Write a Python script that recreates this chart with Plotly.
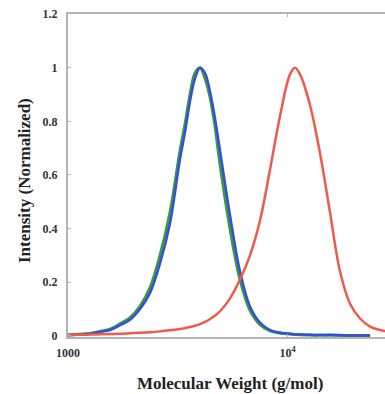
import plotly.graph_objects as go

# Molecular weight grid (g/mol)
mw = [1000, 1134, 1260, 1399, 1554, 1726, 1917, 2128, 2364, 2625, 2915, 3238,
      3412, 3596, 3790, 3994, 4209, 4436, 4675, 4927, 5470, 6075, 6747, 7492,
      8324, 9243, 10266, 10820, 11403, 12661, 14066, 15616, 17349, 19266,
      21400, 23767, 26389, 29309]

blue = [0.003, 0.005, 0.008, 0.015, 0.022, 0.040, 0.060, 0.100, 0.160, 0.270,
        0.420, 0.660, 0.760, 0.875, 0.960, 1.000, 0.980, 0.910, 0.810, 0.690,
        0.450, 0.240, 0.110, 0.050, 0.022, 0.012, 0.008, 0.006, 0.005, 0.004,
        0.003, 0.003, 0.003, 0.002, 0.002, 0.002, None, None]

green = [0.003, 0.006, 0.009, 0.017, 0.025, 0.045, 0.068, 0.110, 0.180, 0.300,
         0.460, 0.690, 0.790, 0.900, 0.980, 1.000, 0.960, 0.890, 0.780, 0.640,
         0.400, 0.210, 0.095, 0.042, 0.019, 0.011, 0.007, 0.005, 0.004, 0.003,
         0.003, 0.003, 0.002, 0.002, 0.002, 0.002, None, None]

red = [0.003, 0.004, 0.005, 0.006, 0.007, 0.008, 0.010, 0.012, 0.014, 0.017,
       0.021, 0.026, 0.029, 0.033, 0.038, 0.044, 0.052, 0.063, 0.076, 0.092,
       0.140, 0.210, 0.300, 0.430, 0.620, 0.820, 0.975, 1.000, 0.975, 0.860,
       0.680, 0.460, 0.240, 0.120, 0.065, 0.035, 0.022, 0.015]

y_ticks = [0, 0.2, 0.4, 0.6, 0.8, 1, 1.2]
y_ticktext = ["0", "0.2", "0.4", "0.6", "0.8", "1", "1.2"]
x_ticks = [1000, 10000]
x_ticktext = ["1000", "10<sup>4</sup>"]

font_serif = "Liberation Serif"

fig = go.Figure()
fig.add_trace(go.Scatter(x=mw, y=green, mode="lines", line=dict(color="#3a9a3e", width=3, shape="spline"),
                         connectgaps=False, showlegend=False))
fig.add_trace(go.Scatter(x=mw, y=blue, mode="lines", line=dict(color="#3550d8", width=2.5, shape="spline"),
                         connectgaps=False, showlegend=False))
fig.add_trace(go.Scatter(x=mw, y=red, mode="lines", line=dict(color="#f05a48", width=2.5, shape="spline"),
                         showlegend=False))

fig.update_layout(
    width=385, height=394,
    margin=dict(l=68, r=0, t=14, b=57),
    paper_bgcolor="white", plot_bgcolor="white",
    font=dict(family=font_serif, color="#333333"),
    xaxis=dict(type="log", range=[3, 4.444], showgrid=False, zeroline=False,
               showline=True, linecolor="#b4b4b4", linewidth=2, mirror="ticks",
               ticks="inside", ticklen=3, tickcolor="#b4b4b4",
               tickvals=x_ticks, ticktext=x_ticktext,
               tickfont=dict(family=font_serif, size=12, color="#333333", weight="bold"),
               ticklabelstandoff=4),
    yaxis=dict(range=[-0.004, 1.2], showgrid=False, zeroline=False,
               showline=True, linecolor="#b4b4b4", linewidth=2,
               ticks="inside", ticklen=3, tickcolor="#b4b4b4",
               tickvals=y_ticks, ticktext=y_ticktext,
               tickfont=dict(family=font_serif, size=12, color="#333333", weight="bold"),
               ticklabelstandoff=6),
    annotations=[
        dict(text="<b>Molecular Weight (g/mol)</b>", xref="paper", yref="paper",
             x=(230 - 68) / 317, y=-(384 - 337) / 323, showarrow=False,
             xanchor="center", yanchor="middle",
             font=dict(family=font_serif, size=17, color="#222222")),
        dict(text="<b>Intensity (Normalized)</b>", xref="paper", yref="paper",
             x=-(68 - 24) / 317, y=(337 - 181) / 323, showarrow=False, textangle=-90,
             xanchor="center", yanchor="middle",
             font=dict(family=font_serif, size=17, color="#222222")),
    ],
)

fig.write_html("out.html")
